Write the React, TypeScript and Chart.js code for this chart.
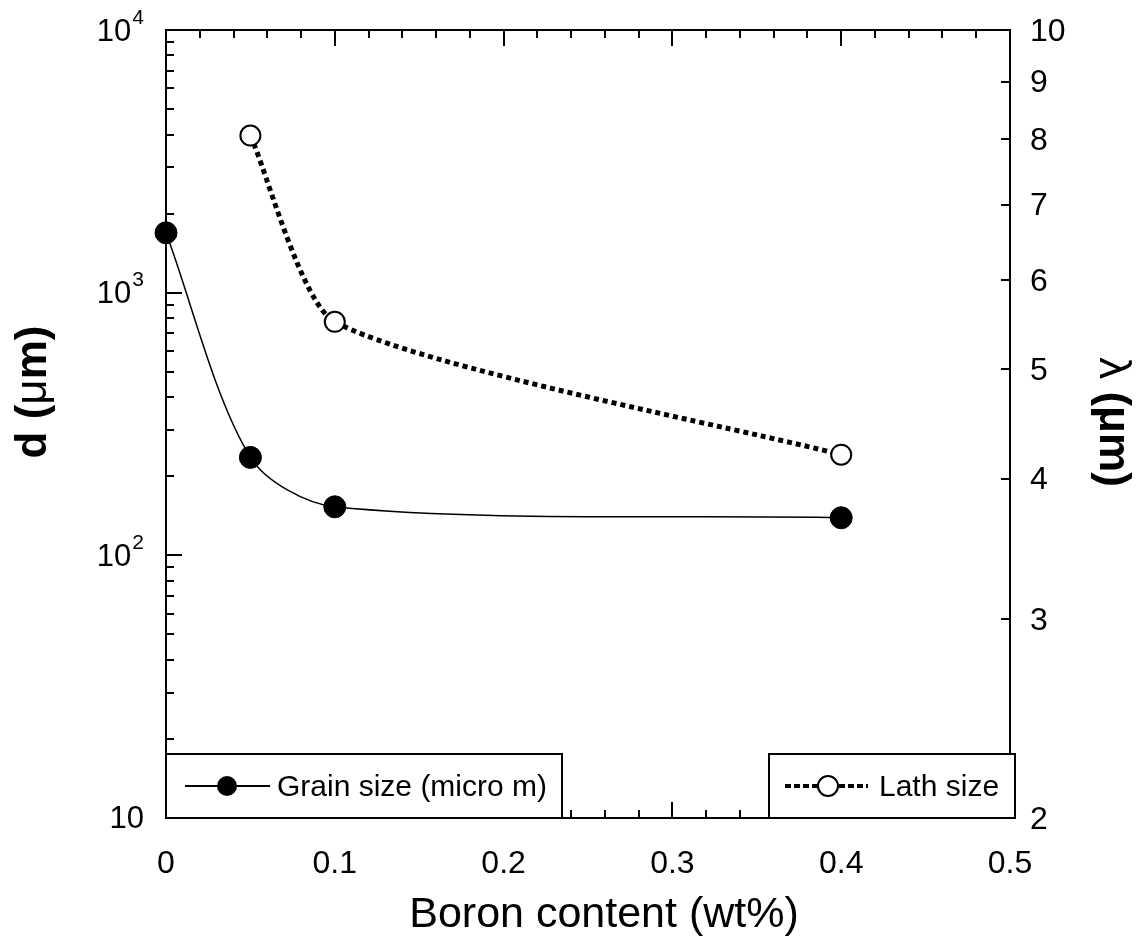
import React, { useEffect, useRef } from "react";
import { Chart, registerables } from "chart.js";

Chart.register(...registerables);

// ---- data ----
const X_GRAIN = [0, 0.05, 0.1, 0.4];
const GRAIN_SIZE = [1690, 236, 153, 139];
const X_LATH = [0.05, 0.1, 0.4];
const LATH_SIZE = [8.06, 5.51, 4.2];

const X_TICKS = [0, 0.1, 0.2, 0.3, 0.4, 0.5];
const X_TICK_LABELS = ["0", "0.1", "0.2", "0.3", "0.4", "0.5"];
const LEFT_DECADES = [10, 100, 1000, 10000];
const LEFT_EXPONENTS = ["", "2", "3", "4"];
const RIGHT_TICKS = [2, 3, 4, 5, 6, 7, 8, 9, 10];
const RIGHT_TICK_LABELS = ["2", "3", "4", "5", "6", "7", "8", "9", "10"];

const SERIES_NAMES = ["Grain size (micro m)", "Lath size"];
const X_TITLE = "Boron content (wt%)";

const FONT = "'Liberation Sans', Arial, sans-serif";

function drawSegments(ctx: CanvasRenderingContext2D, segs: { t: string; f: string }[], cx: number, cy: number, angle: number) {
  ctx.save();
  ctx.translate(cx, cy);
  ctx.rotate(angle);
  let total = 0;
  for (const s of segs) {
    ctx.font = s.f;
    total += ctx.measureText(s.t).width;
  }
  let xpos = -total / 2;
  ctx.textBaseline = "middle";
  ctx.textAlign = "left";
  for (const s of segs) {
    ctx.font = s.f;
    ctx.fillText(s.t, xpos, 0);
    xpos += ctx.measureText(s.t).width;
  }
  ctx.restore();
}

const framePlugin = {
  id: "framePlugin",
  beforeDatasetsDraw(chart: any) {
    const { ctx, chartArea } = chart;
    const { left, right, top, bottom } = chartArea;
    const x = chart.scales.x;
    const y = chart.scales.y;
    const y2 = chart.scales.y2;
    ctx.save();
    ctx.strokeStyle = "#000";
    ctx.fillStyle = "#000";
    ctx.lineWidth = 2;
    ctx.strokeRect(left, top, right - left, bottom - top);

    // x ticks (bottom and top, inward)
    ctx.beginPath();
    for (let i = 0; i <= 25; i++) {
      const px = Math.round(x.getPixelForValue(i * 0.02));
      const len = i % 5 === 0 ? 16 : 8;
      ctx.moveTo(px, bottom);
      ctx.lineTo(px, bottom - len);
      ctx.moveTo(px, top);
      ctx.lineTo(px, top + len);
    }
    // left log ticks
    for (let d = 0; d < LEFT_DECADES.length; d++) {
      const base = LEFT_DECADES[d];
      const maxK = d === LEFT_DECADES.length - 1 ? 1 : 9;
      for (let k = 1; k <= maxK; k++) {
        const py = Math.round(y.getPixelForValue(base * k));
        const len = k === 1 ? 16 : 8;
        ctx.moveTo(left, py);
        ctx.lineTo(left + len, py);
      }
    }
    // right ticks
    for (const v of RIGHT_TICKS) {
      const py = Math.round(y2.getPixelForValue(v));
      ctx.moveTo(right, py);
      ctx.lineTo(right - 9, py);
    }
    ctx.stroke();

    // x tick labels
    ctx.font = `32px ${FONT}`;
    ctx.textAlign = "center";
    ctx.textBaseline = "middle";
    X_TICKS.forEach((v, i) => {
      ctx.fillText(X_TICK_LABELS[i], x.getPixelForValue(v), bottom + 46);
    });

    // left tick labels 10^n
    LEFT_DECADES.forEach((v, i) => {
      const py = y.getPixelForValue(v);
      const exp = LEFT_EXPONENTS[i];
      ctx.textBaseline = "middle";
      ctx.textAlign = "right";
      if (exp) {
        ctx.font = `21px ${FONT}`;
        const ew = ctx.measureText(exp).width;
        ctx.fillText(exp, 144, py - 12);
        ctx.font = `31px ${FONT}`;
        ctx.fillText("10", 144 - ew - 1, py + 2);
      } else {
        ctx.font = `31px ${FONT}`;
        ctx.fillText("10", 144, py + 1);
      }
    });

    // right tick labels
    ctx.font = `32px ${FONT}`;
    ctx.textAlign = "left";
    ctx.textBaseline = "middle";
    RIGHT_TICKS.forEach((v, i) => {
      ctx.fillText(RIGHT_TICK_LABELS[i], right + 20, y2.getPixelForValue(v) + 2);
    });

    // axis titles
    drawSegments(
      ctx,
      [
        { t: "d (", f: `bold 44px ${FONT}` },
        { t: "μ", f: `44px ${FONT}` },
        { t: "m)", f: `bold 44px ${FONT}` },
      ],
      34,
      392,
      -Math.PI / 2
    );
    drawSegments(
      ctx,
      [
        { t: "λ", f: `44px ${FONT}` },
        { t: " (μm)", f: `bold 44px ${FONT}` },
      ],
      1112,
      422,
      Math.PI / 2
    );
    ctx.font = `43px ${FONT}`;
    ctx.textAlign = "center";
    ctx.textBaseline = "middle";
    ctx.fillText(X_TITLE, 604, 915);
    ctx.restore();
  },
  afterDatasetsDraw(chart: any) {
    const { ctx } = chart;
    ctx.save();
    ctx.lineWidth = 2;
    ctx.strokeStyle = "#000";
    // legend box 1
    ctx.fillStyle = "#fff";
    ctx.fillRect(166, 754, 396, 64);
    ctx.strokeRect(166, 754, 396, 64);
    ctx.beginPath();
    ctx.moveTo(185, 786);
    ctx.lineTo(270, 786);
    ctx.stroke();
    ctx.fillStyle = "#000";
    ctx.beginPath();
    ctx.arc(227, 786, 10, 0, Math.PI * 2);
    ctx.fill();
    ctx.font = `30px ${FONT}`;
    ctx.textAlign = "left";
    ctx.textBaseline = "middle";
    ctx.fillText(SERIES_NAMES[0], 277, 788);

    // legend box 2
    ctx.fillStyle = "#fff";
    ctx.fillRect(769, 754, 246, 64);
    ctx.strokeRect(769, 754, 246, 64);
    ctx.save();
    ctx.lineWidth = 4;
    ctx.setLineDash([6, 3]);
    ctx.beginPath();
    ctx.moveTo(785, 786);
    ctx.lineTo(868, 786);
    ctx.stroke();
    ctx.restore();
    ctx.beginPath();
    ctx.arc(828, 786, 10, 0, Math.PI * 2);
    ctx.fillStyle = "#fff";
    ctx.fill();
    ctx.lineWidth = 2;
    ctx.stroke();
    ctx.fillStyle = "#000";
    ctx.font = `30px ${FONT}`;
    ctx.fillText(SERIES_NAMES[1], 879, 788);
    ctx.restore();
  },
};

export default function App() {
  const ref = useRef<HTMLCanvasElement | null>(null);
  useEffect(() => {
    document.body.style.margin = "0";
    const canvas = ref.current;
    if (!canvas) return;
    const chart = new Chart(canvas, {
      type: "line",
      data: {
        datasets: [
          {
            label: SERIES_NAMES[0],
            data: X_GRAIN.map((xv, i) => ({ x: xv, y: GRAIN_SIZE[i] })),
            yAxisID: "y",
            borderColor: "#000",
            borderWidth: 1.5,
            pointRadius: 11,
            pointBackgroundColor: "#000",
            pointBorderColor: "#000",
            pointBorderWidth: 1,
            tension: 0.3,
            clip: false,
          } as any,
          {
            label: SERIES_NAMES[1],
            data: X_LATH.map((xv, i) => ({ x: xv, y: LATH_SIZE[i] })),
            yAxisID: "y2",
            borderColor: "#000",
            borderWidth: 5,
            borderDash: [5, 4],
            pointRadius: 10,
            pointBackgroundColor: "#fff",
            pointBorderColor: "#000",
            pointBorderWidth: 2,
            tension: 0.2,
            clip: false,
          } as any,
        ],
      },
      options: {
        animation: false,
        responsive: false,
        devicePixelRatio: 1,
        layout: { padding: { left: 166, right: 134, top: 30, bottom: 128 } },
        plugins: { legend: { display: false }, tooltip: { enabled: false } },
        scales: {
          x: { type: "linear", min: 0, max: 0.5, display: false },
          y: { type: "logarithmic", min: 10, max: 10000, display: false },
          y2: { type: "logarithmic", min: 2, max: 10, display: false, position: "right" },
        },
      },
      plugins: [framePlugin],
    });
    return () => chart.destroy();
  }, []);
  return (
    <div style={{ width: 1144, height: 946, background: "#fff" }}>
      <canvas ref={ref} width={1144} height={946} style={{ display: "block" }} />
    </div>
  );
}
